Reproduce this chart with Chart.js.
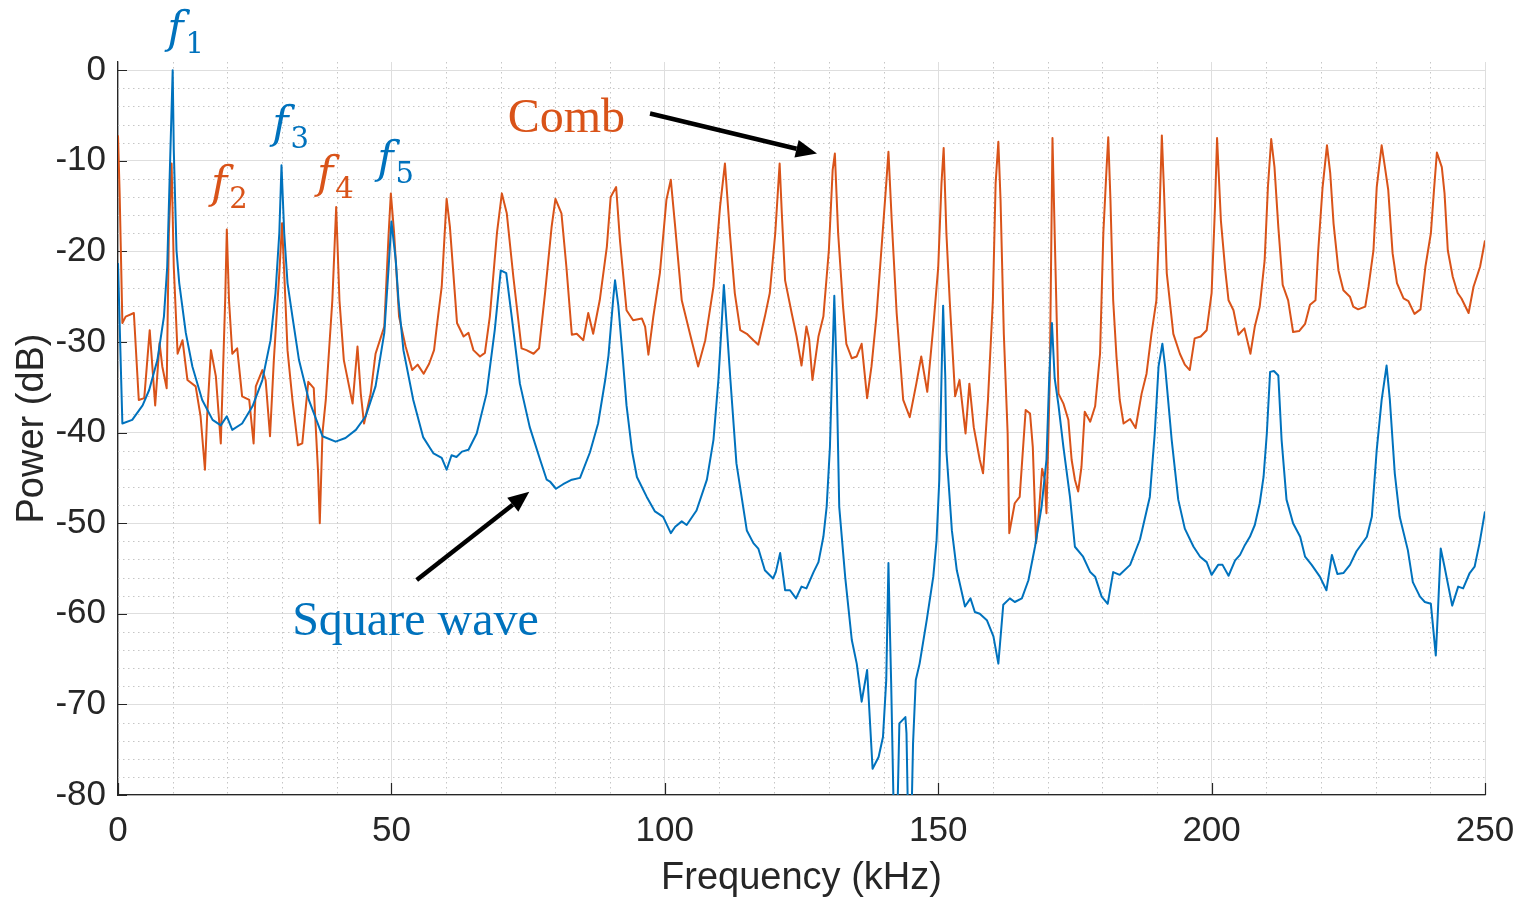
<!DOCTYPE html>
<html>
<head>
<meta charset="utf-8">
<script src="https://cdn.jsdelivr.net/npm/chart.js@4.4.1/dist/chart.umd.min.js"></script>
<style>html,body{margin:0;padding:0;background:#fff;overflow:hidden}canvas{display:block}</style>
</head>
<body>
<canvas id="c" width="1524" height="901"></canvas>
<script>
// ---------- data ----------
const squareFreq = [
  0,0.8,2.6,4.5,5.7,7.2,8.4,9.0,9.5,10.0,
  10.2,10.7,11.2,12.4,13.6,15.4,17.3,18.8,19.9,20.9,
  22.7,24.6,26.4,27.9,28.8,29.5,29.9,30.4,31.0,31.9,
  33.1,34.9,37.4,39.8,41.6,43.5,45.3,47.1,48.7,49.5,
  50.0,50.8,51.3,52.2,54.0,55.8,57.7,59.2,60.1,61.0,
  61.9,62.9,64.1,65.6,67.4,68.9,70.0,71.0,72.0,73.5,
  75.3,77.2,78.4,79.0,80.1,81.4,83.0,84.5,86.3,87.8,
  89.1,89.7,90.6,90.9,91.5,92.2,93.0,94.0,94.9,96.7,
  98.2,99.7,101.1,101.9,103.1,104.0,105.8,107.7,108.9,109.8,
  110.4,110.8,111.3,112.0,113.1,115.0,116.2,117.1,118.3,119.8,
  120.3,121.1,122.0,122.9,124.0,125.0,125.9,127.2,128.1,129.0,
  129.6,130.2,130.6,131.0,131.4,131.9,133.0,134.2,135.1,136.0,
  137.0,138.0,139.1,139.9,140.5,140.9,141.1,141.4,141.8,142.4,
  142.9,144.0,144.2,144.5,145.1,145.4,145.9,146.6,147.9,149.1,
  149.7,150.2,150.6,150.9,151.3,151.5,152.5,153.4,154.9,155.9,
  156.7,157.6,158.9,160.1,161.0,161.9,163.1,164.0,165.3,166.5,
  167.7,168.9,169.8,170.3,170.8,171.3,172.0,172.9,174.1,175.0,
  176.5,177.8,178.7,179.9,181.0,182.0,183.2,185.1,186.9,188.7,
  189.6,190.3,191.0,191.5,192.7,193.9,195.1,196.7,197.9,199.1,
  200.0,201.2,202.0,203.1,204.3,205.2,206.1,207.0,207.9,208.8,
  209.5,210.1,210.7,211.4,212.2,212.8,213.7,214.9,216.2,217.1,
  218.3,219.8,221.0,222.0,223.0,224.1,225.3,226.5,228.4,229.3,
  230.2,231.1,232.0,232.6,233.5,234.4,235.9,236.8,238.1,239.0,
  240.1,241.0,241.4,241.9,242.6,244.0,245.1,246.0,247.2,248.1,
  249.0,250.0
];
const squarePower = [
  -21.3,-39.0,-38.6,-37.0,-35.3,-32.0,-27.2,-21.7,-10.7,0,
  -8.8,-19.9,-23.5,-29.0,-32.7,-36.4,-38.6,-39.2,-38.2,-39.7,
  -39.0,-37.1,-34.2,-29.8,-24.6,-18.0,-10.5,-18.0,-23.5,-27.2,
  -32.0,-36.4,-40.4,-41.0,-40.6,-39.7,-38.2,-34.9,-29.0,-21.7,
  -16.7,-21.0,-25.4,-30.9,-36.4,-40.5,-42.3,-42.8,-44.1,-42.5,
  -42.7,-42.1,-41.9,-40.1,-35.7,-28.7,-22.1,-22.4,-27.2,-34.6,
  -39.4,-43.0,-45.2,-45.4,-46.2,-45.7,-45.2,-45.0,-42.2,-39.0,
  -34.2,-31.5,-25.0,-23.2,-26.0,-31.0,-37.0,-42.0,-44.9,-47.1,
  -48.7,-49.3,-51.1,-50.4,-49.8,-50.2,-48.6,-45.2,-40.8,-34.2,
  -28.0,-23.7,-28.0,-34.2,-43.4,-50.8,-52.2,-52.8,-55.2,-56.1,
  -55.4,-53.3,-57.4,-57.4,-58.3,-57.0,-57.2,-55.4,-54.3,-51.5,
  -48.2,-41.6,-33.0,-24.9,-33.0,-48.2,-56.0,-62.9,-65.5,-69.7,
  -66.2,-77.1,-75.8,-73.6,-67.3,-54.4,-60.0,-67.7,-80.0,-86.0,
  -72.1,-71.4,-73.2,-83.0,-83.0,-74.3,-67.3,-65.5,-60.7,-55.9,
  -51.9,-45.2,-34.0,-26.0,-34.0,-42.0,-50.8,-55.2,-59.2,-58.3,
  -59.8,-60.0,-60.7,-62.5,-65.5,-59.0,-58.3,-58.7,-58.3,-56.3,
  -52.6,-48.2,-43.0,-34.0,-27.9,-34.0,-37.0,-41.6,-47.1,-52.6,
  -53.7,-55.4,-55.9,-58.1,-58.9,-55.4,-55.7,-54.6,-51.8,-47.1,
  -40.1,-32.7,-30.2,-32.7,-40.8,-47.4,-50.6,-52.6,-53.7,-54.3,
  -55.7,-54.6,-54.6,-55.8,-54.1,-53.5,-52.4,-51.5,-50.2,-47.8,
  -44.9,-40.1,-33.3,-33.2,-33.7,-40.8,-47.4,-50.0,-51.5,-53.7,
  -54.6,-55.9,-57.4,-53.5,-55.6,-55.5,-54.6,-53.1,-51.5,-49.3,
  -41.9,-36.4,-32.6,-36.4,-44.5,-49.3,-53.0,-56.5,-58.1,-58.7,
  -58.9,-64.6,-59.6,-52.8,-54.8,-59.1,-57.0,-57.2,-55.5,-54.8,
  -52.2,-48.7
];
const combFreq = [
  0,0.3,0.8,1.4,2.9,3.8,4.8,5.8,6.8,7.6,
  8.1,8.9,9.3,9.8,10.2,10.9,11.8,12.7,14.2,15.1,
  15.9,16.3,17.0,17.9,18.8,19.6,19.9,20.3,20.9,21.8,
  22.7,24.0,24.8,25.2,26.4,27.0,27.8,28.5,29.5,30.0,
  30.4,31.0,31.9,32.9,33.7,34.8,35.8,36.6,36.9,37.4,
  38.0,39.2,39.9,40.5,41.3,42.9,43.8,44.4,45.0,46.2,
  47.1,48.7,49.5,49.9,50.5,51.4,52.6,53.8,54.8,55.9,
  56.9,57.8,58.3,59.2,60.1,60.7,62.0,63.2,64.1,65.0,
  66.2,67.1,68.0,69.3,70.2,71.1,72.3,73.8,74.7,76.0,
  77.0,78.1,79.3,80.0,81.1,82.0,83.0,83.9,85.1,86.0,
  86.9,88.1,89.4,90.1,91.1,91.8,93.0,94.2,95.8,96.4,
  97.0,97.9,99.1,100.3,101.1,101.9,103.1,104.6,106.1,107.4,
  108.9,110.1,111.0,111.9,112.8,113.8,115.0,116.2,117.1,118.3,
  119.2,120.2,121.0,121.4,122.0,123.2,124.1,125.0,125.9,126.4,
  127.0,128.1,129.0,130.0,130.7,131.1,131.7,132.6,133.2,134.2,
  135.1,136.0,137.0,137.8,138.7,139.6,140.5,140.9,141.5,142.4,
  143.6,144.8,146.0,146.9,148.0,149.1,150.0,150.6,151.0,151.5,
  152.1,153.1,153.9,155.0,155.7,156.5,157.6,158.2,159.1,160.0,
  160.5,161.0,161.4,162.0,162.7,163.0,164.0,164.9,166.0,166.8,
  167.3,167.9,168.4,169.0,169.5,169.8,170.1,170.4,170.9,171.3,
  172.0,172.9,173.8,174.4,175.0,175.6,176.2,176.8,177.8,178.7,
  179.6,180.2,180.8,181.1,181.5,182.0,182.6,183.2,183.9,185.1,
  186.1,187.2,188.1,189.0,189.9,190.4,190.9,191.3,191.8,193.0,
  194.2,195.1,196.0,196.9,198.0,199.1,200.0,200.6,201.0,201.7,
  202.5,203.1,204.0,204.9,206.0,207.1,207.9,208.8,209.7,210.3,
  210.9,211.5,212.2,213.0,214.0,214.9,216.0,217.1,218.0,219.0,
  219.5,220.3,221.1,221.7,222.3,223.2,224.1,225.3,225.9,226.8,
  228.1,228.7,229.6,230.2,231.1,231.7,232.3,233.1,233.9,235.1,
  236.0,237.1,238.2,239.1,240.1,240.7,241.2,242.1,242.6,243.2,
  244.1,245.0,245.7,247.0,247.9,249.1,250.0
];
const combPower = [
  -7.2,-13.6,-27.9,-27.2,-26.8,-36.4,-36.2,-28.7,-37.0,-30.1,
  -32.7,-35.1,-18.0,-10.3,-21.7,-31.3,-29.8,-34.2,-34.9,-38.2,
  -44.1,-38.2,-30.9,-33.8,-41.2,-25.4,-17.6,-25.4,-31.3,-30.7,
  -36.0,-36.4,-41.2,-34.9,-33.1,-34.2,-40.4,-32.0,-22.4,-16.9,
  -22.4,-30.9,-36.4,-41.4,-41.2,-34.4,-35.1,-44.5,-50.0,-40.0,
  -36.4,-25.4,-15.1,-25.4,-32.0,-36.8,-30.5,-35.7,-39.0,-35.7,
  -31.3,-28.3,-18.0,-13.6,-18.0,-27.2,-30.5,-33.1,-32.5,-33.5,
  -32.4,-30.9,-28.3,-23.9,-14.2,-17.3,-27.9,-29.4,-29.0,-30.9,
  -31.6,-31.2,-27.2,-18.0,-13.6,-15.8,-22.8,-30.7,-30.9,-31.3,
  -30.7,-24.6,-17.3,-14.2,-15.8,-21.7,-29.2,-29.1,-29.8,-26.8,
  -29.1,-25.4,-19.5,-14.0,-12.9,-18.8,-26.5,-27.6,-27.4,-28.3,
  -31.4,-27.2,-22.4,-14.3,-12.1,-17.3,-25.4,-29.1,-32.7,-29.8,
  -23.9,-15.1,-10.3,-18.0,-24.6,-28.7,-29.1,-29.8,-30.3,-27.2,
  -24.6,-18.0,-10.3,-15.8,-23.2,-26.8,-29.4,-32.6,-28.3,-29.7,
  -34.2,-29.4,-27.2,-19.9,-11.0,-9.2,-18.0,-26.1,-30.2,-31.8,
  -31.6,-30.2,-36.2,-32.7,-27.2,-19.9,-12.5,-9.0,-16.6,-26.8,
  -36.4,-38.3,-34.6,-31.6,-35.5,-28.3,-21.8,-12.5,-8.6,-18.0,
  -25.4,-36.0,-34.2,-40.1,-34.6,-39.4,-43.0,-44.5,-36.4,-25.4,
  -12.5,-7.9,-14.3,-29.1,-40.1,-51.1,-47.8,-47.1,-37.5,-37.9,
  -41.6,-52.2,-48.9,-44.0,-45.2,-48.9,-41.6,-34.2,-7.5,-18.0,
  -35.7,-36.8,-38.6,-43.0,-45.2,-46.5,-43.8,-37.7,-38.8,-37.1,
  -31.3,-18.0,-10.7,-7.4,-14.3,-25.4,-31.6,-36.4,-39.0,-38.5,
  -39.5,-35.7,-33.5,-29.1,-25.4,-17.3,-7.2,-13.4,-22.4,-29.1,
  -31.3,-32.5,-33.1,-29.6,-29.4,-28.7,-24.6,-15.4,-7.5,-16.6,
  -22.1,-25.4,-26.5,-29.2,-28.5,-31.3,-28.3,-26.1,-21.0,-12.9,
  -7.6,-10.7,-17.3,-23.7,-25.4,-28.9,-28.8,-28.0,-25.9,-25.4,
  -19.9,-12.9,-8.3,-11.4,-16.9,-22.1,-24.3,-25.0,-26.1,-26.4,
  -26.1,-23.9,-19.9,-12.9,-8.3,-10.7,-13.2,-20.2,-23.5,-25.2,
  -25.5,-26.9,-26.4,-21.7,-18.0,-13.0,-9.1,-10.7,-13.6,-19.9,
  -22.8,-24.6,-25.2,-26.8,-23.9,-21.7,-18.8
];
const xTicks = [0, 50, 100, 150, 200, 250];
const yTicks = [0, -10, -20, -30, -40, -50, -60, -70, -80];

// ---------- styling ----------
const BLUE = '#0072BD';
const ORANGE = '#D95319';
const AXIS = '#262626';
const SANS = "'Liberation Sans', Arial, sans-serif";
const SERIF = "'Liberation Serif', 'Times New Roman', serif";
const MATH = "'DejaVu Serif', 'Liberation Serif', serif";

// annotation placement (in data coordinates)
const harmonicLabels = [
  {sub: '1', x: 9.0,   y: 3.05,   color: BLUE},
  {sub: '2', x: 17.0,  y: -14.06, color: ORANGE},
  {sub: '3', x: 28.2,  y: -7.44,  color: BLUE},
  {sub: '4', x: 36.4,  y: -13.06, color: ORANGE},
  {sub: '5', x: 47.4,  y: -11.30, color: BLUE}
];
const textNotes = [
  {text: 'Comb', x: 82.0, y: -6.84, color: ORANGE},
  {text: 'Square wave', x: 54.4, y: -62.34, color: BLUE}
];
const arrows = [
  {x0: 97.3, y0: -4.78, x1: 127.83, y1: -9.21},
  {x0: 54.63, y0: -56.28, x1: 75.22, y1: -46.53}
];

const minorGrid = {
  id: 'minorGrid',
  beforeDatasetsDraw(chart) {
    const {ctx, chartArea: a, scales: {x, y}} = chart;
    ctx.save();
    ctx.strokeStyle = '#c6c6c6';
    ctx.lineWidth = 1;
    ctx.setLineDash([1.5, 3.5]);
    ctx.beginPath();
    for (let v = 10; v < 250; v += 10) {
      if (v % 50 === 0) continue;
      const px = Math.round(x.getPixelForValue(v)) + 0.5;
      ctx.moveTo(px, a.top); ctx.lineTo(px, a.bottom);
    }
    for (let v = -78; v <= 0; v += 2) {
      if (v % 10 === 0) continue;
      const py = Math.round(y.getPixelForValue(v)) + 0.5;
      ctx.moveTo(a.left, py); ctx.lineTo(a.right, py);
    }
    ctx.stroke();
    ctx.setLineDash([]);
    ctx.strokeStyle = AXIS;
    ctx.lineWidth = 1.2;
    ctx.beginPath();
    yTicks.forEach(v => {
      const py = Math.round(y.getPixelForValue(v)) + 0.5;
      ctx.moveTo(a.left, py); ctx.lineTo(a.left + 9, py);
    });
    xTicks.forEach(v => {
      const px = Math.round(x.getPixelForValue(v)) + 0.5;
      ctx.moveTo(px, a.bottom); ctx.lineTo(px, a.bottom - 12);
    });
    ctx.stroke();
    ctx.restore();
  }
};

const notes = {
  id: 'notes',
  afterDraw(chart) {
    const {ctx, scales: {x, y}} = chart;
    ctx.save();
    ctx.textBaseline = 'alphabetic';
    harmonicLabels.forEach(h => {
      const px = x.getPixelForValue(h.x), py = y.getPixelForValue(h.y);
      ctx.fillStyle = h.color;
      ctx.textAlign = 'left';
      ctx.font = 'italic 44px ' + MATH;
      ctx.fillText('f', px, py);
      const w = ctx.measureText('f').width;
      ctx.font = '29px ' + MATH;
      ctx.fillText(h.sub, px + w + 2, py + 10);
    });
    textNotes.forEach(t => {
      ctx.fillStyle = t.color;
      ctx.textAlign = 'center';
      ctx.font = '48px ' + SERIF;
      ctx.fillText(t.text, x.getPixelForValue(t.x), y.getPixelForValue(t.y));
    });
    ctx.fillStyle = '#000';
    ctx.strokeStyle = '#000';
    ctx.lineWidth = 4.5;
    arrows.forEach(a => {
      const x0 = x.getPixelForValue(a.x0), y0 = y.getPixelForValue(a.y0);
      const x1 = x.getPixelForValue(a.x1), y1 = y.getPixelForValue(a.y1);
      const ang = Math.atan2(y1 - y0, x1 - x0);
      const hl = 21, hw = 9;
      const bx = x1 - hl * Math.cos(ang), by = y1 - hl * Math.sin(ang);
      ctx.beginPath();
      ctx.moveTo(x0, y0); ctx.lineTo(bx, by);
      ctx.stroke();
      ctx.beginPath();
      ctx.moveTo(x1, y1);
      ctx.lineTo(bx + hw * Math.sin(ang), by - hw * Math.cos(ang));
      ctx.lineTo(bx - hw * Math.sin(ang), by + hw * Math.cos(ang));
      ctx.closePath();
      ctx.fill();
    });
    ctx.restore();
  }
};

new Chart(document.getElementById('c'), {
  type: 'line',
  data: {
    datasets: [
      {
        label: 'Square wave',
        data: squareFreq.map((f, i) => ({x: f, y: squarePower[i]})),
        borderColor: BLUE, borderWidth: 2, pointRadius: 0, tension: 0,
        fill: false, borderJoinStyle: 'round'
      },
      {
        label: 'Comb',
        data: combFreq.map((f, i) => ({x: f, y: combPower[i]})),
        borderColor: ORANGE, borderWidth: 2, pointRadius: 0, tension: 0,
        fill: false, borderJoinStyle: 'round'
      }
    ]
  },
  options: {
    responsive: false,
    animation: false,
    devicePixelRatio: 1,
    layout: {padding: {top: 62, right: 39, left: 0, bottom: 0}},
    plugins: {legend: {display: false}, tooltip: {enabled: false}},
    scales: {
      x: {
        type: 'linear', min: 0, max: 250,
        afterBuildTicks: s => { s.ticks = xTicks.map(v => ({value: v})); },
        afterFit: s => { s.height = 106; s.paddingLeft = 0; s.paddingRight = 0; },
        ticks: {font: {family: SANS, size: 35}, color: AXIS, padding: 15, maxRotation: 0,
                autoSkip: false, callback: v => String(v)},
        grid: {color: '#dedede', lineWidth: 1, drawTicks: false},
        border: {color: AXIS, width: 1.3},
        title: {display: true, text: 'Frequency (kHz)', color: AXIS,
                font: {family: SANS, size: 38}, padding: {top: 0, bottom: 0}}
      },
      y: {
        type: 'linear', min: -80, max: 0.9,
        afterBuildTicks: s => { s.ticks = yTicks.map(v => ({value: v})); },
        afterFit: s => { s.width = 118; s.paddingTop = 0; s.paddingBottom = 0; },
        ticks: {font: {family: SANS, size: 35}, color: AXIS, padding: 12,
                autoSkip: false, callback: v => String(v)},
        grid: {color: '#dedede', lineWidth: 1, drawTicks: false},
        border: {color: AXIS, width: 1.3},
        title: {display: true, text: 'Power (dB)', color: AXIS,
                font: {family: SANS, size: 38}, padding: {top: 10, bottom: 0}}
      }
    }
  },
  plugins: [minorGrid, notes]
});
</script>
</body>
</html>
